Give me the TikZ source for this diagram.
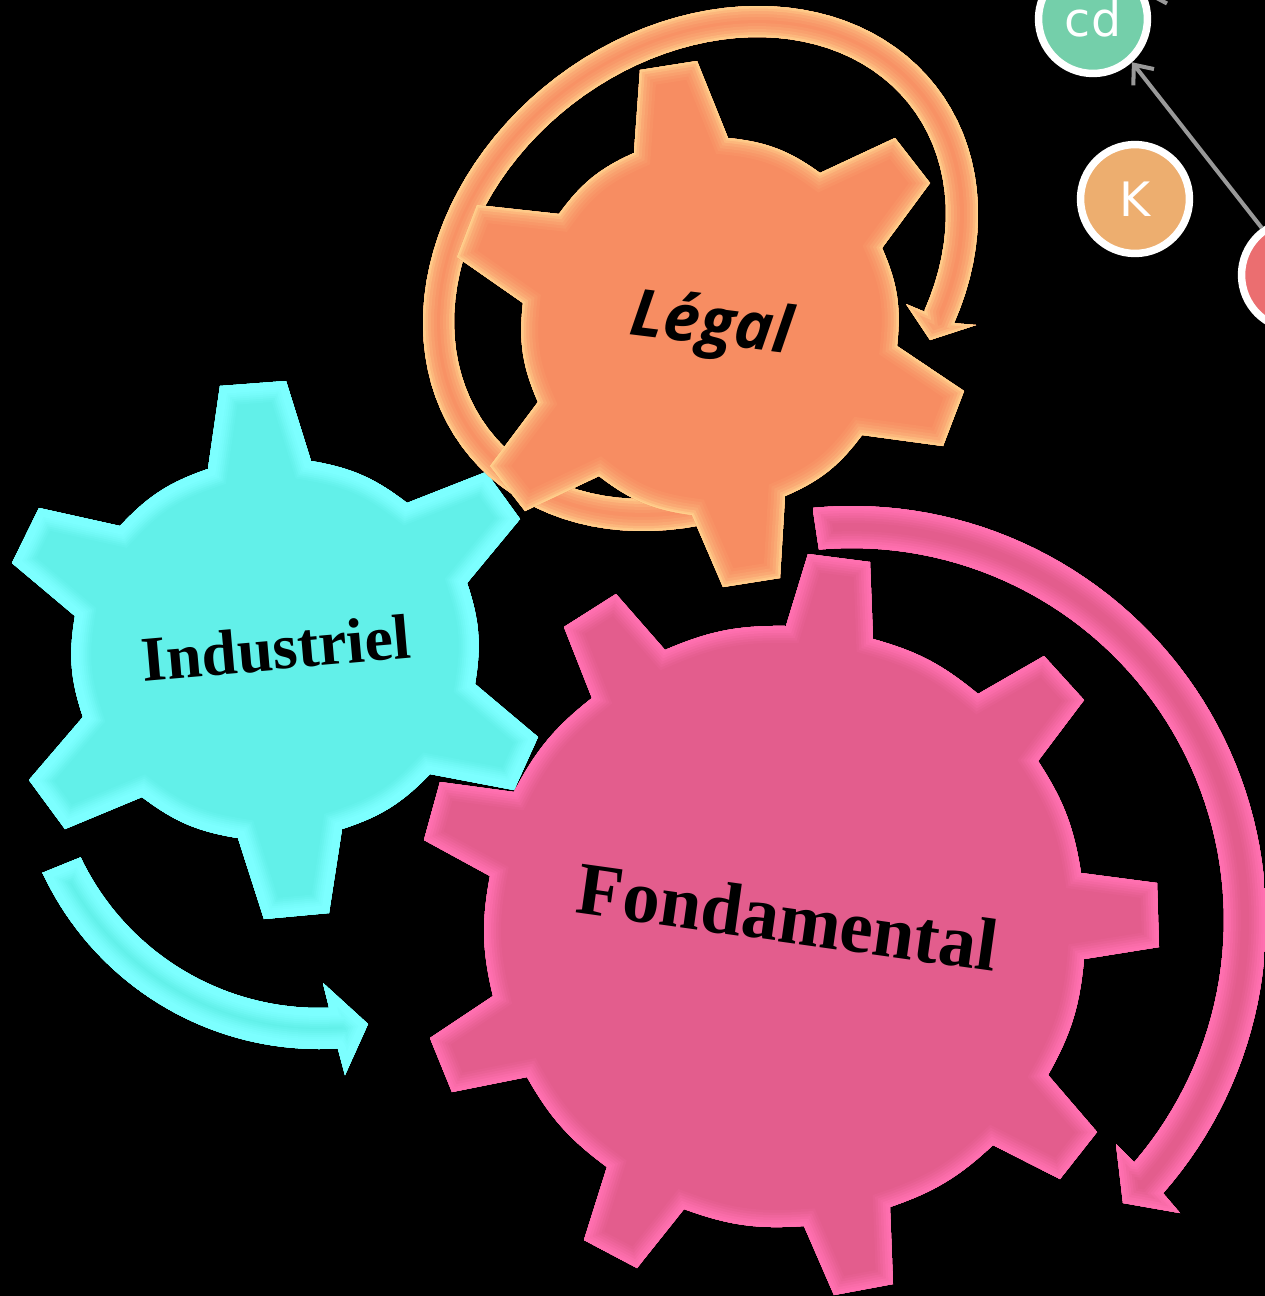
\documentclass[tikz,border=0pt]{standalone}
\usepackage{fontspec}
\setmainfont{Liberation Serif}
\newfontfamily\legalfont{Open Sans}
\newfontfamily\nodefont{DejaVu Sans}
\usetikzlibrary{arrows.meta}

\definecolor{legalbase}{HTML}{F78D62}
\definecolor{legallight}{HTML}{FFD08C}
\definecolor{indusbase}{HTML}{62F0E9}
\definecolor{induslight}{HTML}{7CFFFF}
\definecolor{fondbase}{HTML}{E35D8D}
\definecolor{fondlight}{HTML}{FF70B0}
\definecolor{cdgreen}{HTML}{74CFAA}
\definecolor{ksand}{HTML}{EDAE6F}
\definecolor{nodered}{HTML}{EB6E70}

% rim profiles: stroke width in px / share of the light colour
\def\softrim{34/8,28/16,22/28,16/42,10/62,5/85,2/100}
\def\flatrim{40/12,36/28,32/45,28/62,24/78,20/90,16/100}
\def\pinkrim{34/12,29/25,24/42,19/60,14/78,9/92,5/100}

% fill a closed path, then shade its rim from the inside
\newcommand{\bevelfill}[4]{%
  \begin{scope}
    \clip #1;
    \fill[#2] #1;
    \foreach \bw/\mix in #4
      \draw[#3!\mix!#2, line width=\bw*0.567pt, line join=miter, miter limit=10] #1;
  \end{scope}}

\def\indusgear{(208,469) -- (220,386) -- (286,381) -- (311,461) to[bend left=14] (407,503)
  -- (486,472) -- (520,519) -- (467,583) to[bend left=14] (475,684)
  -- (538,737) -- (514,790) -- (430,774) to[bend left=14] (342,829)
  -- (329,913) -- (264,919) -- (238,838) to[bend left=14] (142,797)
  -- (65,829) -- (29,780) -- (83,717) to[bend left=14] (75,616)
  -- (12,563) -- (39,508) -- (120,526) to[bend left=14] cycle}
\def\indusring{(42,873) -- (79,858)
  -- plot[domain=154.6:87.8,samples=40] ({319+264*cos(\x)},{744+264*sin(\x)})
  -- (323,983) -- (368,1024) -- (345,1075) -- (338,1049)
  -- plot[domain=86.5:155,samples=40] ({319+305*cos(\x)},{744+305*sin(\x)}) -- cycle}
\def\fondgear{(786,626) -- (808,554) -- (870,562) -- (873,639) to[bend left=12] (978,694)
  -- (1044,656) -- (1084,700) -- (1038,761) to[bend left=12] (1081,873)
  -- (1157,883) -- (1159,947) -- (1084,959) to[bend left=12] (1048,1075)
  -- (1097,1132) -- (1060,1179) -- (993,1145) to[bend left=12] (890,1207)
  -- (893,1284) -- (834,1295) -- (804,1226) to[bend left=12] (684,1209)
  -- (637,1268) -- (584,1240) -- (607,1167) to[bend left=12] (527,1077)
  -- (452,1092) -- (430,1038) -- (493,996) to[bend left=12] (490,876)
  -- (424,840) -- (440,782) -- (514,792) to[bend left=12] (592,698)
  -- (564,627) -- (616,594) -- (665,650) to[bend left=12] cycle}
\def\fondring{(813,510)
  -- plot[domain=-95.4:41.3,samples=70] ({852+414*cos(\x)},{920+414*sin(\x)})
  -- (1180,1213) -- (1123,1203) -- (1116,1144) -- (1134,1162)
  -- plot[domain=40.6:-95.1,samples=70] ({852+372*cos(\x)},{920+372*sin(\x)}) -- cycle}
\def\legalgear{(634,153) -- (640,70) -- (697,61) -- (728,138) to[bend left=15] (820,173)
  -- (895,138) -- (930,183) -- (882,248) to[bend left=15] (897,346)
  -- (964,391) -- (943,446) -- (862,435) to[bend left=15] (785,496)
  -- (780,578) -- (723,587) -- (692,515) to[bend left=15] (599,476)
  -- (525,511) -- (490,466) -- (538,402) to[bend left=15] (523,303)
  -- (457,257) -- (477,205) -- (559,214) to[bend left=15] cycle}
\def\legalring{(700,525)
  -- plot[domain=90:384,samples=90] ({700.5+277.5*cos(\x)},{268.5-54.5*cos(\x)+256.8*sin(\x)})
  -- (976,325) -- (930,340) -- (906,304) -- (925,312)
  -- plot[domain=384:90,samples=90] ({700+246*cos(\x)},{268-54*cos(\x)+224.6*sin(\x)}) -- cycle}

\begin{document}
\begin{tikzpicture}[x=0.02cm,y=-0.02cm,
    graphnode/.style={circle, draw=white, line width=4.25pt, minimum size=62pt, inner sep=0pt,
      text=white, font=\nodefont\fontsize{27}{30}\selectfont},
    graphedge/.style={draw=black!40, line width=2.3pt, -{Straight Barb[length=9pt,width=15pt]}}]
  \path[use as bounding box, fill=black] (0,0) rectangle (1265,1296);

  \bevelfill{\indusring}{indusbase}{induslight}{\flatrim}
  \bevelfill{\indusgear}{indusbase}{induslight}{\flatrim}
  \bevelfill{\fondring}{fondbase}{fondlight}{\pinkrim}
  \bevelfill{\fondgear}{fondbase}{fondlight}{\pinkrim}
  \bevelfill{\legalring}{legalbase}{legallight}{\softrim}
  \bevelfill{\legalgear}{legalbase}{legallight}{\softrim}

  \node[rotate=5, font=\bfseries\fontsize{36.3}{40}\selectfont] (indus) at (276,648) {Industriel};
  \node[rotate=-8, font=\bfseries\fontsize{42.5}{46}\selectfont] (fond) at (788,917) {Fondamental};
  \node[rotate=-7, font=\legalfont\bfseries\itshape\fontsize{37}{41}\selectfont] (legal) at (711,327) {Légal};

  \node[graphnode, fill=cdgreen] (cd) at (1093,19) {cd};
  \node[graphnode, fill=ksand] (K) at (1135,199) {K};
  \node[graphnode, fill=nodered] (red) at (1296,275) {};
  \coordinate (offtop) at (1240,-25);
  \draw[graphedge] (red.126) -- (cd.-48);
  \draw[graphedge] (offtop) -- (cd.25);
\end{tikzpicture}
\end{document}
